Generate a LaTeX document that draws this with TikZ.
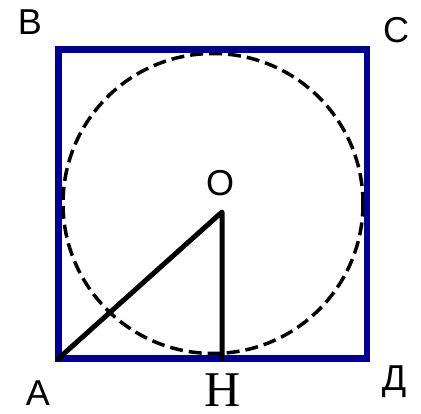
\documentclass[tikz,border=0pt]{standalone}
\usepackage{fontspec}
\setmainfont{Liberation Sans}
\newfontfamily\serifH{Liberation Serif}
\usepackage{tikz}
\usetikzlibrary{positioning,calc}
\definecolor{sqblue}{RGB}{0,0,140}

\begin{document}
\begin{tikzpicture}[x=1pt,y=-1pt,
    lbl/.style={font=\fontsize{36}{36}\selectfont, inner sep=0pt}]
    \useasboundingbox (0,0) rectangle (421,414);
    \coordinate (A) at (58.5,358.5);
    \coordinate (B) at (58.5,49.5);
    \coordinate (C) at (367,49.5);
    \coordinate (D) at (367,358.5);
    \coordinate (O) at (222,212);
    \coordinate (H) at (222,358.5);
    \draw[black, line width=3.5pt, dash pattern=on 13pt off 6pt] (213,203.5) circle (150);
    \draw[sqblue, line width=6.5pt] (A) -- (B) -- (C) -- (D) -- cycle;
    \draw[line width=5pt, line cap=round, line join=round] (A) -- (O) -- (H);
    \node[lbl] (lA) at (38,393) {A};
    \node[lbl] (lB) at (30,22) {B};
    \node[lbl] (lC) at (396,30) {C};
    \node[lbl] (lD) at (394,382) {Д};
    \node[lbl] (lO) at (220,183) {O};
    \node[inner sep=0pt, font=\serifH\fontsize{50}{50}\selectfont] (lH) at (223,390) {H};
\end{tikzpicture}
\end{document}
